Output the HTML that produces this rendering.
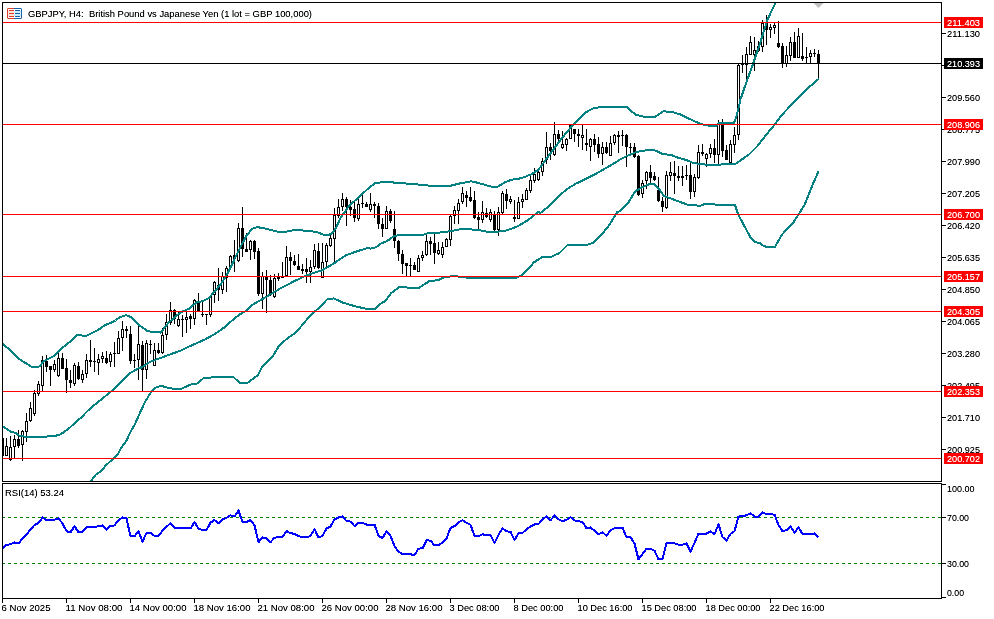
<!DOCTYPE html>
<html><head><meta charset="utf-8"><style>
html,body{margin:0;padding:0;background:#fff;width:994px;height:619px;overflow:hidden}
svg{position:absolute;left:0;top:0;display:block}
</style></head><body>
<svg width="994" height="619" viewBox="0 0 994 619">
<defs><clipPath id="cm"><rect x="3" y="3" width="938" height="478"/></clipPath><clipPath id="cr"><rect x="3" y="484" width="938" height="114"/></clipPath></defs><g shape-rendering="crispEdges" clip-path="url(#cm)"><rect x="2" y="438" width="1" height="18" fill="#000"/><rect x="1" y="438" width="3" height="18" fill="#000"/><rect x="6" y="438" width="1" height="18" fill="#000"/><rect x="5" y="446" width="3" height="10" fill="#000"/><rect x="6" y="447" width="1" height="8" fill="#fff"/><rect x="10" y="436" width="1" height="25" fill="#000"/><rect x="9" y="447" width="3" height="13" fill="#000"/><rect x="10" y="448" width="1" height="11" fill="#fff"/><rect x="14" y="435" width="1" height="23" fill="#000"/><rect x="13" y="439" width="3" height="8" fill="#000"/><rect x="14" y="440" width="1" height="6" fill="#fff"/><rect x="18" y="430" width="1" height="18" fill="#000"/><rect x="17" y="439" width="3" height="7" fill="#000"/><rect x="22" y="430" width="1" height="31" fill="#000"/><rect x="21" y="431" width="3" height="14" fill="#000"/><rect x="22" y="432" width="1" height="12" fill="#fff"/><rect x="26" y="413" width="1" height="29" fill="#000"/><rect x="25" y="421" width="3" height="11" fill="#000"/><rect x="26" y="422" width="1" height="9" fill="#fff"/><rect x="30" y="402" width="1" height="20" fill="#000"/><rect x="29" y="408" width="3" height="13" fill="#000"/><rect x="30" y="409" width="1" height="11" fill="#fff"/><rect x="34" y="390" width="1" height="26" fill="#000"/><rect x="33" y="393" width="3" height="21" fill="#000"/><rect x="34" y="394" width="1" height="19" fill="#fff"/><rect x="38" y="381" width="1" height="15" fill="#000"/><rect x="37" y="384" width="3" height="10" fill="#000"/><rect x="38" y="385" width="1" height="8" fill="#fff"/><rect x="42" y="356" width="1" height="35" fill="#000"/><rect x="41" y="360" width="3" height="26" fill="#000"/><rect x="42" y="361" width="1" height="24" fill="#fff"/><rect x="46" y="355" width="1" height="17" fill="#000"/><rect x="45" y="361" width="3" height="6" fill="#000"/><rect x="50" y="366" width="1" height="20" fill="#000"/><rect x="49" y="366" width="3" height="4" fill="#000"/><rect x="54" y="360" width="1" height="12" fill="#000"/><rect x="53" y="364" width="3" height="6" fill="#000"/><rect x="54" y="365" width="1" height="4" fill="#fff"/><rect x="58" y="353" width="1" height="24" fill="#000"/><rect x="57" y="358" width="3" height="18" fill="#000"/><rect x="58" y="359" width="1" height="16" fill="#fff"/><rect x="62" y="353" width="1" height="16" fill="#000"/><rect x="61" y="358" width="3" height="11" fill="#000"/><rect x="66" y="359" width="1" height="34" fill="#000"/><rect x="65" y="368" width="3" height="12" fill="#000"/><rect x="70" y="370" width="1" height="18" fill="#000"/><rect x="69" y="380" width="3" height="3" fill="#000"/><rect x="74" y="363" width="1" height="23" fill="#000"/><rect x="73" y="365" width="3" height="19" fill="#000"/><rect x="74" y="366" width="1" height="17" fill="#fff"/><rect x="78" y="362" width="1" height="18" fill="#000"/><rect x="77" y="366" width="3" height="13" fill="#000"/><rect x="82" y="370" width="1" height="13" fill="#000"/><rect x="81" y="374" width="3" height="6" fill="#000"/><rect x="82" y="375" width="1" height="4" fill="#fff"/><rect x="86" y="354" width="1" height="24" fill="#000"/><rect x="85" y="360" width="3" height="14" fill="#000"/><rect x="86" y="361" width="1" height="12" fill="#fff"/><rect x="90" y="340" width="1" height="27" fill="#000"/><rect x="89" y="360" width="3" height="2" fill="#000"/><rect x="94" y="348" width="1" height="24" fill="#000"/><rect x="93" y="361" width="3" height="1" fill="#000"/><rect x="98" y="354" width="1" height="21" fill="#000"/><rect x="97" y="359" width="3" height="4" fill="#000"/><rect x="98" y="360" width="1" height="2" fill="#fff"/><rect x="102" y="352" width="1" height="11" fill="#000"/><rect x="101" y="356" width="3" height="3" fill="#000"/><rect x="102" y="357" width="1" height="1" fill="#fff"/><rect x="106" y="351" width="1" height="13" fill="#000"/><rect x="105" y="358" width="3" height="5" fill="#000"/><rect x="110" y="352" width="1" height="15" fill="#000"/><rect x="109" y="354" width="3" height="8" fill="#000"/><rect x="110" y="355" width="1" height="6" fill="#fff"/><rect x="114" y="342" width="1" height="25" fill="#000"/><rect x="113" y="353" width="3" height="1" fill="#000"/><rect x="118" y="331" width="1" height="23" fill="#000"/><rect x="117" y="338" width="3" height="16" fill="#000"/><rect x="118" y="339" width="1" height="14" fill="#fff"/><rect x="122" y="321" width="1" height="30" fill="#000"/><rect x="121" y="329" width="3" height="9" fill="#000"/><rect x="122" y="330" width="1" height="7" fill="#fff"/><rect x="126" y="326" width="1" height="12" fill="#000"/><rect x="125" y="329" width="3" height="2" fill="#000"/><rect x="130" y="326" width="1" height="38" fill="#000"/><rect x="129" y="334" width="3" height="27" fill="#000"/><rect x="134" y="354" width="1" height="14" fill="#000"/><rect x="133" y="360" width="3" height="1" fill="#000"/><rect x="138" y="325" width="1" height="55" fill="#000"/><rect x="137" y="344" width="3" height="16" fill="#000"/><rect x="138" y="345" width="1" height="14" fill="#fff"/><rect x="142" y="341" width="1" height="50" fill="#000"/><rect x="141" y="345" width="3" height="25" fill="#000"/><rect x="146" y="340" width="1" height="39" fill="#000"/><rect x="145" y="343" width="3" height="27" fill="#000"/><rect x="146" y="344" width="1" height="25" fill="#fff"/><rect x="150" y="340" width="1" height="14" fill="#000"/><rect x="149" y="344" width="3" height="1" fill="#000"/><rect x="154" y="343" width="1" height="23" fill="#000"/><rect x="153" y="350" width="3" height="16" fill="#000"/><rect x="154" y="351" width="1" height="14" fill="#fff"/><rect x="158" y="343" width="1" height="11" fill="#000"/><rect x="157" y="350" width="3" height="3" fill="#000"/><rect x="162" y="328" width="1" height="26" fill="#000"/><rect x="161" y="335" width="3" height="18" fill="#000"/><rect x="162" y="336" width="1" height="16" fill="#fff"/><rect x="166" y="314" width="1" height="26" fill="#000"/><rect x="165" y="322" width="3" height="13" fill="#000"/><rect x="166" y="323" width="1" height="11" fill="#fff"/><rect x="170" y="302" width="1" height="23" fill="#000"/><rect x="169" y="310" width="3" height="13" fill="#000"/><rect x="170" y="311" width="1" height="11" fill="#fff"/><rect x="174" y="309" width="1" height="15" fill="#000"/><rect x="173" y="310" width="3" height="9" fill="#000"/><rect x="178" y="312" width="1" height="15" fill="#000"/><rect x="177" y="319" width="3" height="7" fill="#000"/><rect x="178" y="320" width="1" height="5" fill="#fff"/><rect x="182" y="315" width="1" height="22" fill="#000"/><rect x="181" y="319" width="3" height="1" fill="#000"/><rect x="186" y="312" width="1" height="21" fill="#000"/><rect x="185" y="317" width="3" height="3" fill="#000"/><rect x="186" y="318" width="1" height="1" fill="#fff"/><rect x="190" y="314" width="1" height="15" fill="#000"/><rect x="189" y="316" width="3" height="3" fill="#000"/><rect x="194" y="299" width="1" height="26" fill="#000"/><rect x="193" y="300" width="3" height="19" fill="#000"/><rect x="194" y="301" width="1" height="17" fill="#fff"/><rect x="198" y="293" width="1" height="18" fill="#000"/><rect x="197" y="302" width="3" height="9" fill="#000"/><rect x="202" y="301" width="1" height="16" fill="#000"/><rect x="201" y="314" width="3" height="1" fill="#000"/><rect x="206" y="314" width="1" height="11" fill="#000"/><rect x="205" y="314" width="3" height="1" fill="#000"/><rect x="210" y="295" width="1" height="22" fill="#000"/><rect x="209" y="296" width="3" height="19" fill="#000"/><rect x="210" y="297" width="1" height="17" fill="#fff"/><rect x="214" y="281" width="1" height="22" fill="#000"/><rect x="213" y="282" width="3" height="13" fill="#000"/><rect x="214" y="283" width="1" height="11" fill="#fff"/><rect x="218" y="268" width="1" height="33" fill="#000"/><rect x="217" y="285" width="3" height="5" fill="#000"/><rect x="222" y="272" width="1" height="22" fill="#000"/><rect x="221" y="276" width="3" height="14" fill="#000"/><rect x="222" y="277" width="1" height="12" fill="#fff"/><rect x="226" y="266" width="1" height="26" fill="#000"/><rect x="225" y="268" width="3" height="10" fill="#000"/><rect x="226" y="269" width="1" height="8" fill="#fff"/><rect x="230" y="255" width="1" height="15" fill="#000"/><rect x="229" y="256" width="3" height="12" fill="#000"/><rect x="230" y="257" width="1" height="10" fill="#fff"/><rect x="234" y="240" width="1" height="32" fill="#000"/><rect x="233" y="255" width="3" height="4" fill="#000"/><rect x="238" y="223" width="1" height="39" fill="#000"/><rect x="237" y="228" width="3" height="33" fill="#000"/><rect x="238" y="229" width="1" height="31" fill="#fff"/><rect x="242" y="207" width="1" height="50" fill="#000"/><rect x="241" y="228" width="3" height="21" fill="#000"/><rect x="246" y="233" width="1" height="19" fill="#000"/><rect x="245" y="249" width="3" height="3" fill="#000"/><rect x="250" y="240" width="1" height="20" fill="#000"/><rect x="249" y="241" width="3" height="9" fill="#000"/><rect x="250" y="242" width="1" height="7" fill="#fff"/><rect x="254" y="240" width="1" height="19" fill="#000"/><rect x="253" y="241" width="3" height="11" fill="#000"/><rect x="258" y="248" width="1" height="48" fill="#000"/><rect x="257" y="251" width="3" height="43" fill="#000"/><rect x="262" y="272" width="1" height="37" fill="#000"/><rect x="261" y="276" width="3" height="18" fill="#000"/><rect x="262" y="277" width="1" height="16" fill="#fff"/><rect x="266" y="270" width="1" height="43" fill="#000"/><rect x="265" y="277" width="3" height="3" fill="#000"/><rect x="270" y="275" width="1" height="21" fill="#000"/><rect x="269" y="280" width="3" height="15" fill="#000"/><rect x="274" y="274" width="1" height="24" fill="#000"/><rect x="273" y="278" width="3" height="19" fill="#000"/><rect x="274" y="279" width="1" height="17" fill="#fff"/><rect x="278" y="273" width="1" height="8" fill="#000"/><rect x="277" y="277" width="3" height="2" fill="#000"/><rect x="282" y="262" width="1" height="16" fill="#000"/><rect x="281" y="276" width="3" height="2" fill="#000"/><rect x="286" y="246" width="1" height="31" fill="#000"/><rect x="285" y="257" width="3" height="19" fill="#000"/><rect x="286" y="258" width="1" height="17" fill="#fff"/><rect x="290" y="252" width="1" height="23" fill="#000"/><rect x="289" y="257" width="3" height="4" fill="#000"/><rect x="294" y="255" width="1" height="11" fill="#000"/><rect x="293" y="261" width="3" height="4" fill="#000"/><rect x="298" y="254" width="1" height="16" fill="#000"/><rect x="297" y="266" width="3" height="4" fill="#000"/><rect x="302" y="264" width="1" height="10" fill="#000"/><rect x="301" y="269" width="3" height="2" fill="#000"/><rect x="306" y="258" width="1" height="25" fill="#000"/><rect x="305" y="269" width="3" height="3" fill="#000"/><rect x="310" y="260" width="1" height="23" fill="#000"/><rect x="309" y="267" width="3" height="5" fill="#000"/><rect x="310" y="268" width="1" height="3" fill="#fff"/><rect x="314" y="244" width="1" height="25" fill="#000"/><rect x="313" y="250" width="3" height="17" fill="#000"/><rect x="314" y="251" width="1" height="15" fill="#fff"/><rect x="318" y="243" width="1" height="26" fill="#000"/><rect x="317" y="251" width="3" height="17" fill="#000"/><rect x="322" y="243" width="1" height="35" fill="#000"/><rect x="321" y="262" width="3" height="16" fill="#000"/><rect x="322" y="263" width="1" height="14" fill="#fff"/><rect x="326" y="243" width="1" height="26" fill="#000"/><rect x="325" y="245" width="3" height="17" fill="#000"/><rect x="326" y="246" width="1" height="15" fill="#fff"/><rect x="330" y="235" width="1" height="12" fill="#000"/><rect x="329" y="238" width="3" height="8" fill="#000"/><rect x="330" y="239" width="1" height="6" fill="#fff"/><rect x="334" y="208" width="1" height="54" fill="#000"/><rect x="333" y="215" width="3" height="24" fill="#000"/><rect x="334" y="216" width="1" height="22" fill="#fff"/><rect x="338" y="199" width="1" height="19" fill="#000"/><rect x="337" y="207" width="3" height="9" fill="#000"/><rect x="338" y="208" width="1" height="7" fill="#fff"/><rect x="342" y="193" width="1" height="18" fill="#000"/><rect x="341" y="199" width="3" height="8" fill="#000"/><rect x="342" y="200" width="1" height="6" fill="#fff"/><rect x="346" y="197" width="1" height="29" fill="#000"/><rect x="345" y="199" width="3" height="8" fill="#000"/><rect x="350" y="200" width="1" height="16" fill="#000"/><rect x="349" y="207" width="3" height="3" fill="#000"/><rect x="354" y="202" width="1" height="20" fill="#000"/><rect x="353" y="209" width="3" height="9" fill="#000"/><rect x="358" y="199" width="1" height="22" fill="#000"/><rect x="357" y="204" width="3" height="15" fill="#000"/><rect x="358" y="205" width="1" height="13" fill="#fff"/><rect x="362" y="195" width="1" height="13" fill="#000"/><rect x="361" y="203" width="3" height="1" fill="#000"/><rect x="366" y="202" width="1" height="5" fill="#000"/><rect x="365" y="204" width="3" height="3" fill="#000"/><rect x="370" y="193" width="1" height="19" fill="#000"/><rect x="369" y="204" width="3" height="6" fill="#000"/><rect x="370" y="205" width="1" height="4" fill="#fff"/><rect x="374" y="202" width="1" height="16" fill="#000"/><rect x="373" y="204" width="3" height="2" fill="#000"/><rect x="378" y="203" width="1" height="26" fill="#000"/><rect x="377" y="206" width="3" height="18" fill="#000"/><rect x="382" y="218" width="1" height="19" fill="#000"/><rect x="381" y="224" width="3" height="5" fill="#000"/><rect x="386" y="206" width="1" height="23" fill="#000"/><rect x="385" y="211" width="3" height="18" fill="#000"/><rect x="386" y="212" width="1" height="16" fill="#fff"/><rect x="390" y="209" width="1" height="14" fill="#000"/><rect x="389" y="211" width="3" height="10" fill="#000"/><rect x="394" y="211" width="1" height="37" fill="#000"/><rect x="393" y="229" width="3" height="12" fill="#000"/><rect x="398" y="240" width="1" height="21" fill="#000"/><rect x="397" y="241" width="3" height="13" fill="#000"/><rect x="402" y="250" width="1" height="24" fill="#000"/><rect x="401" y="254" width="3" height="10" fill="#000"/><rect x="406" y="263" width="1" height="13" fill="#000"/><rect x="405" y="263" width="3" height="3" fill="#000"/><rect x="410" y="258" width="1" height="18" fill="#000"/><rect x="409" y="265" width="3" height="1" fill="#000"/><rect x="414" y="262" width="1" height="8" fill="#000"/><rect x="413" y="265" width="3" height="5" fill="#000"/><rect x="418" y="255" width="1" height="17" fill="#000"/><rect x="417" y="258" width="3" height="14" fill="#000"/><rect x="418" y="259" width="1" height="12" fill="#fff"/><rect x="422" y="251" width="1" height="10" fill="#000"/><rect x="421" y="255" width="3" height="3" fill="#000"/><rect x="422" y="256" width="1" height="1" fill="#fff"/><rect x="426" y="233" width="1" height="23" fill="#000"/><rect x="425" y="241" width="3" height="14" fill="#000"/><rect x="426" y="242" width="1" height="12" fill="#fff"/><rect x="430" y="237" width="1" height="18" fill="#000"/><rect x="429" y="241" width="3" height="3" fill="#000"/><rect x="434" y="234" width="1" height="30" fill="#000"/><rect x="433" y="243" width="3" height="10" fill="#000"/><rect x="438" y="242" width="1" height="13" fill="#000"/><rect x="437" y="250" width="3" height="4" fill="#000"/><rect x="438" y="251" width="1" height="2" fill="#fff"/><rect x="442" y="242" width="1" height="16" fill="#000"/><rect x="441" y="247" width="3" height="8" fill="#000"/><rect x="442" y="248" width="1" height="6" fill="#fff"/><rect x="446" y="238" width="1" height="9" fill="#000"/><rect x="445" y="239" width="3" height="8" fill="#000"/><rect x="446" y="240" width="1" height="6" fill="#fff"/><rect x="450" y="215" width="1" height="31" fill="#000"/><rect x="449" y="216" width="3" height="24" fill="#000"/><rect x="450" y="217" width="1" height="22" fill="#fff"/><rect x="454" y="206" width="1" height="18" fill="#000"/><rect x="453" y="210" width="3" height="6" fill="#000"/><rect x="454" y="211" width="1" height="4" fill="#fff"/><rect x="458" y="199" width="1" height="25" fill="#000"/><rect x="457" y="203" width="3" height="8" fill="#000"/><rect x="458" y="204" width="1" height="6" fill="#fff"/><rect x="462" y="187" width="1" height="17" fill="#000"/><rect x="461" y="193" width="3" height="9" fill="#000"/><rect x="462" y="194" width="1" height="7" fill="#fff"/><rect x="466" y="191" width="1" height="16" fill="#000"/><rect x="465" y="195" width="3" height="3" fill="#000"/><rect x="470" y="187" width="1" height="15" fill="#000"/><rect x="469" y="197" width="3" height="4" fill="#000"/><rect x="474" y="191" width="1" height="28" fill="#000"/><rect x="473" y="200" width="3" height="18" fill="#000"/><rect x="478" y="212" width="1" height="17" fill="#000"/><rect x="477" y="217" width="3" height="3" fill="#000"/><rect x="482" y="201" width="1" height="22" fill="#000"/><rect x="481" y="212" width="3" height="8" fill="#000"/><rect x="482" y="213" width="1" height="6" fill="#fff"/><rect x="486" y="208" width="1" height="10" fill="#000"/><rect x="485" y="213" width="3" height="4" fill="#000"/><rect x="490" y="209" width="1" height="13" fill="#000"/><rect x="489" y="212" width="3" height="8" fill="#000"/><rect x="490" y="213" width="1" height="6" fill="#fff"/><rect x="494" y="211" width="1" height="22" fill="#000"/><rect x="493" y="214" width="3" height="16" fill="#000"/><rect x="498" y="207" width="1" height="29" fill="#000"/><rect x="497" y="212" width="3" height="18" fill="#000"/><rect x="498" y="213" width="1" height="16" fill="#fff"/><rect x="502" y="191" width="1" height="23" fill="#000"/><rect x="501" y="193" width="3" height="20" fill="#000"/><rect x="502" y="194" width="1" height="18" fill="#fff"/><rect x="506" y="189" width="1" height="20" fill="#000"/><rect x="505" y="194" width="3" height="7" fill="#000"/><rect x="510" y="196" width="1" height="8" fill="#000"/><rect x="509" y="199" width="3" height="3" fill="#000"/><rect x="510" y="200" width="1" height="1" fill="#fff"/><rect x="514" y="200" width="1" height="22" fill="#000"/><rect x="513" y="217" width="3" height="2" fill="#000"/><rect x="518" y="197" width="1" height="22" fill="#000"/><rect x="517" y="202" width="3" height="17" fill="#000"/><rect x="518" y="203" width="1" height="15" fill="#fff"/><rect x="522" y="194" width="1" height="14" fill="#000"/><rect x="521" y="199" width="3" height="3" fill="#000"/><rect x="522" y="200" width="1" height="1" fill="#fff"/><rect x="526" y="188" width="1" height="12" fill="#000"/><rect x="525" y="190" width="3" height="10" fill="#000"/><rect x="526" y="191" width="1" height="8" fill="#fff"/><rect x="530" y="175" width="1" height="18" fill="#000"/><rect x="529" y="180" width="3" height="11" fill="#000"/><rect x="530" y="181" width="1" height="9" fill="#fff"/><rect x="534" y="168" width="1" height="15" fill="#000"/><rect x="533" y="174" width="3" height="7" fill="#000"/><rect x="534" y="175" width="1" height="5" fill="#fff"/><rect x="538" y="169" width="1" height="12" fill="#000"/><rect x="537" y="172" width="3" height="8" fill="#000"/><rect x="538" y="173" width="1" height="6" fill="#fff"/><rect x="542" y="158" width="1" height="18" fill="#000"/><rect x="541" y="161" width="3" height="11" fill="#000"/><rect x="542" y="162" width="1" height="9" fill="#fff"/><rect x="546" y="132" width="1" height="32" fill="#000"/><rect x="545" y="147" width="3" height="13" fill="#000"/><rect x="546" y="148" width="1" height="11" fill="#fff"/><rect x="550" y="143" width="1" height="17" fill="#000"/><rect x="549" y="147" width="3" height="4" fill="#000"/><rect x="554" y="122" width="1" height="34" fill="#000"/><rect x="553" y="134" width="3" height="21" fill="#000"/><rect x="554" y="135" width="1" height="19" fill="#fff"/><rect x="558" y="130" width="1" height="11" fill="#000"/><rect x="557" y="134" width="3" height="5" fill="#000"/><rect x="562" y="131" width="1" height="18" fill="#000"/><rect x="561" y="144" width="3" height="4" fill="#000"/><rect x="562" y="145" width="1" height="2" fill="#fff"/><rect x="566" y="138" width="1" height="13" fill="#000"/><rect x="565" y="139" width="3" height="6" fill="#000"/><rect x="566" y="140" width="1" height="4" fill="#fff"/><rect x="570" y="124" width="1" height="15" fill="#000"/><rect x="569" y="125" width="3" height="14" fill="#000"/><rect x="570" y="126" width="1" height="12" fill="#fff"/><rect x="574" y="129" width="1" height="13" fill="#000"/><rect x="573" y="129" width="3" height="5" fill="#000"/><rect x="578" y="129" width="1" height="18" fill="#000"/><rect x="577" y="134" width="3" height="2" fill="#000"/><rect x="582" y="125" width="1" height="25" fill="#000"/><rect x="581" y="135" width="3" height="3" fill="#000"/><rect x="582" y="136" width="1" height="1" fill="#fff"/><rect x="586" y="129" width="1" height="22" fill="#000"/><rect x="585" y="143" width="3" height="2" fill="#000"/><rect x="590" y="138" width="1" height="23" fill="#000"/><rect x="589" y="139" width="3" height="8" fill="#000"/><rect x="590" y="140" width="1" height="6" fill="#fff"/><rect x="594" y="134" width="1" height="18" fill="#000"/><rect x="593" y="139" width="3" height="6" fill="#000"/><rect x="598" y="137" width="1" height="21" fill="#000"/><rect x="597" y="144" width="3" height="10" fill="#000"/><rect x="602" y="142" width="1" height="23" fill="#000"/><rect x="601" y="147" width="3" height="7" fill="#000"/><rect x="602" y="148" width="1" height="5" fill="#fff"/><rect x="606" y="142" width="1" height="12" fill="#000"/><rect x="605" y="147" width="3" height="6" fill="#000"/><rect x="610" y="136" width="1" height="20" fill="#000"/><rect x="609" y="143" width="3" height="13" fill="#000"/><rect x="610" y="144" width="1" height="11" fill="#fff"/><rect x="614" y="134" width="1" height="11" fill="#000"/><rect x="613" y="135" width="3" height="8" fill="#000"/><rect x="614" y="136" width="1" height="6" fill="#fff"/><rect x="618" y="131" width="1" height="22" fill="#000"/><rect x="617" y="135" width="3" height="2" fill="#000"/><rect x="622" y="130" width="1" height="16" fill="#000"/><rect x="621" y="135" width="3" height="1" fill="#000"/><rect x="626" y="134" width="1" height="33" fill="#000"/><rect x="625" y="135" width="3" height="12" fill="#000"/><rect x="630" y="143" width="1" height="11" fill="#000"/><rect x="629" y="147" width="3" height="1" fill="#000"/><rect x="634" y="143" width="1" height="15" fill="#000"/><rect x="633" y="147" width="3" height="10" fill="#000"/><rect x="638" y="155" width="1" height="41" fill="#000"/><rect x="637" y="156" width="3" height="39" fill="#000"/><rect x="642" y="180" width="1" height="18" fill="#000"/><rect x="641" y="183" width="3" height="11" fill="#000"/><rect x="642" y="184" width="1" height="9" fill="#fff"/><rect x="646" y="171" width="1" height="18" fill="#000"/><rect x="645" y="172" width="3" height="9" fill="#000"/><rect x="646" y="173" width="1" height="7" fill="#fff"/><rect x="650" y="165" width="1" height="18" fill="#000"/><rect x="649" y="172" width="3" height="6" fill="#000"/><rect x="654" y="172" width="1" height="9" fill="#000"/><rect x="653" y="176" width="3" height="4" fill="#000"/><rect x="658" y="177" width="1" height="25" fill="#000"/><rect x="657" y="190" width="3" height="11" fill="#000"/><rect x="662" y="197" width="1" height="15" fill="#000"/><rect x="661" y="201" width="3" height="6" fill="#000"/><rect x="666" y="171" width="1" height="38" fill="#000"/><rect x="665" y="175" width="3" height="33" fill="#000"/><rect x="666" y="176" width="1" height="31" fill="#fff"/><rect x="670" y="162" width="1" height="19" fill="#000"/><rect x="669" y="172" width="3" height="4" fill="#000"/><rect x="670" y="173" width="1" height="2" fill="#fff"/><rect x="674" y="161" width="1" height="33" fill="#000"/><rect x="673" y="173" width="3" height="3" fill="#000"/><rect x="678" y="166" width="1" height="15" fill="#000"/><rect x="677" y="176" width="3" height="2" fill="#000"/><rect x="682" y="166" width="1" height="20" fill="#000"/><rect x="681" y="176" width="3" height="2" fill="#000"/><rect x="686" y="165" width="1" height="15" fill="#000"/><rect x="685" y="175" width="3" height="1" fill="#000"/><rect x="690" y="163" width="1" height="36" fill="#000"/><rect x="689" y="175" width="3" height="17" fill="#000"/><rect x="694" y="174" width="1" height="23" fill="#000"/><rect x="693" y="177" width="3" height="15" fill="#000"/><rect x="694" y="178" width="1" height="13" fill="#fff"/><rect x="698" y="145" width="1" height="34" fill="#000"/><rect x="697" y="152" width="3" height="26" fill="#000"/><rect x="698" y="153" width="1" height="24" fill="#fff"/><rect x="702" y="144" width="1" height="12" fill="#000"/><rect x="701" y="152" width="3" height="2" fill="#000"/><rect x="706" y="153" width="1" height="14" fill="#000"/><rect x="705" y="154" width="3" height="5" fill="#000"/><rect x="706" y="155" width="1" height="3" fill="#fff"/><rect x="710" y="144" width="1" height="14" fill="#000"/><rect x="709" y="148" width="3" height="6" fill="#000"/><rect x="710" y="149" width="1" height="4" fill="#fff"/><rect x="714" y="139" width="1" height="24" fill="#000"/><rect x="713" y="148" width="3" height="7" fill="#000"/><rect x="718" y="120" width="1" height="46" fill="#000"/><rect x="717" y="124" width="3" height="31" fill="#000"/><rect x="718" y="125" width="1" height="29" fill="#fff"/><rect x="722" y="119" width="1" height="38" fill="#000"/><rect x="721" y="124" width="3" height="27" fill="#000"/><rect x="726" y="145" width="1" height="15" fill="#000"/><rect x="725" y="150" width="3" height="10" fill="#000"/><rect x="730" y="140" width="1" height="23" fill="#000"/><rect x="729" y="144" width="3" height="19" fill="#000"/><rect x="730" y="145" width="1" height="17" fill="#fff"/><rect x="734" y="127" width="1" height="26" fill="#000"/><rect x="733" y="135" width="3" height="10" fill="#000"/><rect x="734" y="136" width="1" height="8" fill="#fff"/><rect x="738" y="64" width="1" height="76" fill="#000"/><rect x="737" y="65" width="3" height="70" fill="#000"/><rect x="738" y="66" width="1" height="68" fill="#fff"/><rect x="742" y="55" width="1" height="18" fill="#000"/><rect x="741" y="63" width="3" height="2" fill="#000"/><rect x="746" y="47" width="1" height="32" fill="#000"/><rect x="745" y="54" width="3" height="11" fill="#000"/><rect x="746" y="55" width="1" height="9" fill="#fff"/><rect x="750" y="36" width="1" height="19" fill="#000"/><rect x="749" y="42" width="3" height="13" fill="#000"/><rect x="750" y="43" width="1" height="11" fill="#fff"/><rect x="754" y="37" width="1" height="34" fill="#000"/><rect x="753" y="50" width="3" height="5" fill="#000"/><rect x="754" y="51" width="1" height="3" fill="#fff"/><rect x="758" y="41" width="1" height="11" fill="#000"/><rect x="757" y="46" width="3" height="5" fill="#000"/><rect x="758" y="47" width="1" height="3" fill="#fff"/><rect x="762" y="20" width="1" height="32" fill="#000"/><rect x="761" y="23" width="3" height="24" fill="#000"/><rect x="762" y="24" width="1" height="22" fill="#fff"/><rect x="766" y="15" width="1" height="30" fill="#000"/><rect x="765" y="23" width="3" height="7" fill="#000"/><rect x="770" y="24" width="1" height="14" fill="#000"/><rect x="769" y="27" width="3" height="3" fill="#000"/><rect x="770" y="28" width="1" height="1" fill="#fff"/><rect x="774" y="23" width="1" height="11" fill="#000"/><rect x="773" y="25" width="3" height="3" fill="#000"/><rect x="774" y="26" width="1" height="1" fill="#fff"/><rect x="778" y="21" width="1" height="27" fill="#000"/><rect x="777" y="43" width="3" height="4" fill="#000"/><rect x="782" y="43" width="1" height="25" fill="#000"/><rect x="781" y="46" width="3" height="17" fill="#000"/><rect x="786" y="46" width="1" height="21" fill="#000"/><rect x="785" y="55" width="3" height="9" fill="#000"/><rect x="786" y="56" width="1" height="7" fill="#fff"/><rect x="790" y="37" width="1" height="24" fill="#000"/><rect x="789" y="42" width="3" height="14" fill="#000"/><rect x="790" y="43" width="1" height="12" fill="#fff"/><rect x="794" y="32" width="1" height="26" fill="#000"/><rect x="793" y="42" width="3" height="16" fill="#000"/><rect x="798" y="28" width="1" height="30" fill="#000"/><rect x="797" y="36" width="3" height="22" fill="#000"/><rect x="798" y="37" width="1" height="20" fill="#fff"/><rect x="802" y="33" width="1" height="28" fill="#000"/><rect x="801" y="56" width="3" height="3" fill="#000"/><rect x="806" y="47" width="1" height="16" fill="#000"/><rect x="805" y="57" width="3" height="1" fill="#000"/><rect x="810" y="50" width="1" height="13" fill="#000"/><rect x="809" y="53" width="3" height="4" fill="#000"/><rect x="810" y="54" width="1" height="2" fill="#fff"/><rect x="814" y="49" width="1" height="8" fill="#000"/><rect x="813" y="53" width="3" height="1" fill="#000"/><rect x="818" y="50" width="1" height="28" fill="#000"/><rect x="817" y="54" width="3" height="9" fill="#000"/></g><polyline clip-path="url(#cm)" points="2.5,344 10.2,349.8 19.9,359.5 26.3,363.5 31.2,366.5 39.3,366.5 44.1,361.1 53.8,356.2 61.9,348.2 70,341.7 76.4,335.2 80.5,335 85.3,336.3 92.6,332.6 98.7,329.6 104.7,325.3 112,322.3 115.5,320.5 119.9,317.2 126.3,315.1 131.2,317.2 139.3,325.2 147.3,330.9 153.8,332.5 160.3,332.2 160.5,332.7 168.3,323 174.7,317.2 181.2,312 188.9,308.8 192.8,305.5 196.7,302.3 203.1,301 208.3,298.5 214.8,291.3 221.2,283.6 227.7,273.3 231.5,265.5 239,249.9 246.3,236.1 252.1,228.8 257.2,227.1 266.5,228.8 276.8,231.5 285.5,231.8 292.8,230.3 300.5,230.3 316.5,231.9 324.7,235.1 331.2,234.3 336,227.9 340.9,217.3 349,206 358.7,197.2 368.4,188.3 374.8,183.4 386.1,181.5 394.2,182.6 400.5,183.1 415,184.2 434.5,186.2 449,186.2 458.5,183.7 471.5,181.3 478,182.9 492.5,187 496.5,187.5 504.5,182.5 511,179.9 521.5,178.2 532,174 538.3,169.8 544.6,161.4 553,149.9 563.5,136.2 574,123.6 584.5,113.1 592.9,108.5 600.5,107.1 626.8,107.1 635.2,114.4 644.6,116.9 655.1,116.9 663.5,111.3 671.9,111.9 680.3,114.4 688.7,118.6 700.5,123.9 707.9,125.5 716,126.4 719.2,123.2 734.1,122.9 737,114.5 740.5,99.4 745.7,84.1 752.5,65.5 760.8,40.9 767.3,19.9 775.5,2.9 790.5,-39.5 818.5,-99.5" fill="none" stroke="#008080" stroke-width="2" stroke-linejoin="round" shape-rendering="crispEdges"/><polyline clip-path="url(#cm)" points="2.5,426.5 7.7,429.5 11.4,432.2 15,432.6 18.6,435.4 26.8,437.2 43.1,437.2 51.2,435.8 58.5,435.4 63.9,432.2 69.3,428.1 76.6,421.3 81.1,417.7 86.5,412 92.5,406.3 102.8,398.5 106,395.5 112,390.8 120.5,382.3 129,373.8 140.5,367.2 140.9,368 149,362.4 157,359.2 168.4,355.1 181.3,350.3 191,345.5 191.5,345.5 205.7,339.1 214.8,334 225.1,326.9 232.8,319.8 240.5,314 245.1,311.5 252.8,304.5 264.5,297.9 280.5,288.3 296,280.3 306,275.7 315.5,272.3 321.5,270.5 332.8,264.2 345.7,255.3 357,251.3 368.4,247.7 370.5,248.7 376.3,247.2 380.7,243.6 386.5,241.4 393.8,236.3 399.5,234.9 422.9,234.9 427.2,233.4 438.9,232.7 450.5,231.2 461.9,229 478,229.8 486.1,231.5 494.2,232.2 506.2,230.5 517.3,226.5 527.8,220.2 538.3,211.8 540.5,213 548.9,206.1 559.4,195.6 566.7,189.3 575.1,184.1 584.6,179.4 597.2,173.1 605.6,168.3 611.9,164.7 620.5,159.3 627.8,155.7 636.3,152 647.2,150.2 654.5,150.2 662.9,154.1 671.4,155 677.5,157.5 686,159.9 693.2,162.9 700.5,164.1 710.5,165 735.5,163.8 749.1,154.5 757.5,146 766,135 774.5,124.8 781.3,115.5 796.5,99.4 806.7,89.2 818.5,79.1 819,78.9" fill="none" stroke="#008080" stroke-width="2" stroke-linejoin="round" shape-rendering="crispEdges"/><polyline clip-path="url(#cm)" points="80.5,500.5 90.7,481.5 96,474.5 101.4,470.9 105.8,465.5 112.9,458.9 118.2,453.5 121.8,446.9 126.2,441.2 130.5,431.8 135.3,423.5 140.5,411.5 145.5,401.2 150.7,392.5 155.8,387.5 161,385.8 169.5,388.3 180.5,389.2 190.9,384.5 197.2,383.5 203.5,378.2 220.3,376.7 234,377.5 239.2,382.5 247.5,383 258.1,375 262.3,366.5 272.9,356.1 279.2,345.5 287.5,338.3 296,332.5 310.5,315.2 319.1,307.8 327.5,299 333.8,298.4 343.1,302.7 350.7,305 358.2,307 367.3,309.1 375.5,309.1 378.5,305 385.4,300.9 391.4,292.9 398.9,287.3 411,287.6 418.5,288.1 429.1,281.3 438.1,280.1 444.2,277.4 453.2,276 470.5,278 515.8,277.9 521.8,275.2 527.8,269.6 533.9,262.4 541.4,257.5 550.5,257.1 559.5,253 567.1,245.5 576.1,245 586.7,245 592.7,243 601.8,234.5 608.9,225.5 617.3,212.1 620.5,210.8 627.8,203.5 635,191.4 642.3,187.2 649.5,184.1 654.5,184.4 659.3,189 663.5,195.7 671.4,198.7 681.1,202.3 689.5,205.3 700.5,205.6 704.4,204.1 714.1,204.1 716,205.1 734.1,204.9 735,205.2 738.3,214.6 744.7,226.7 750.4,237.2 755.2,242.1 759.3,242.9 764.1,246.1 769,247.4 774.6,247.4 781.9,234.8 786.7,229.2 793.2,222.7 798,215.4 804.5,204.9 809.4,192.8 812.6,184.7 818.2,172.1 818.8,171.5" fill="none" stroke="#008080" stroke-width="2" stroke-linejoin="round" shape-rendering="crispEdges"/><g shape-rendering="crispEdges"><rect x="3" y="22" width="938" height="1" fill="#ff0000"/><rect x="3" y="124" width="938" height="1" fill="#ff0000"/><rect x="3" y="214" width="938" height="1" fill="#ff0000"/><rect x="3" y="276" width="938" height="1" fill="#ff0000"/><rect x="3" y="311" width="938" height="1" fill="#ff0000"/><rect x="3" y="391" width="938" height="1" fill="#ff0000"/><rect x="3" y="458" width="938" height="1" fill="#ff0000"/><rect x="3" y="63" width="938" height="1" fill="#000"/></g><polygon points="813.5,3 823.5,3 818.5,8" fill="#c0c0c0"/><g shape-rendering="crispEdges" fill="#000"><rect x="2" y="2" width="940" height="1"/><rect x="2" y="481" width="940" height="1"/><rect x="2" y="2" width="1" height="480"/><rect x="941" y="2" width="1" height="480"/><rect x="2" y="483" width="940" height="1"/><rect x="2" y="598" width="940" height="1"/><rect x="2" y="483" width="1" height="116"/><rect x="941" y="483" width="1" height="116"/><rect x="942" y="33" width="4" height="1"/><rect x="942" y="65" width="4" height="1"/><rect x="942" y="97" width="4" height="1"/><rect x="942" y="129" width="4" height="1"/><rect x="942" y="161" width="4" height="1"/><rect x="942" y="193" width="4" height="1"/><rect x="942" y="225" width="4" height="1"/><rect x="942" y="257" width="4" height="1"/><rect x="942" y="289" width="4" height="1"/><rect x="942" y="321" width="4" height="1"/><rect x="942" y="353" width="4" height="1"/><rect x="942" y="385" width="4" height="1"/><rect x="942" y="417" width="4" height="1"/><rect x="942" y="449" width="4" height="1"/><rect x="942" y="484" width="4" height="1"/><rect x="942" y="517" width="4" height="1"/><rect x="942" y="563" width="4" height="1"/><rect x="942" y="597" width="4" height="1"/><rect x="2" y="599" width="1" height="4"/><rect x="66" y="599" width="1" height="4"/><rect x="130" y="599" width="1" height="4"/><rect x="194" y="599" width="1" height="4"/><rect x="258" y="599" width="1" height="4"/><rect x="322" y="599" width="1" height="4"/><rect x="386" y="599" width="1" height="4"/><rect x="450" y="599" width="1" height="4"/><rect x="514" y="599" width="1" height="4"/><rect x="578" y="599" width="1" height="4"/><rect x="642" y="599" width="1" height="4"/><rect x="706" y="599" width="1" height="4"/><rect x="770" y="599" width="1" height="4"/></g><g shape-rendering="crispEdges"><line x1="2" y1="517.5" x2="941" y2="517.5" stroke="#008000" stroke-width="1" stroke-dasharray="3,3"/><line x1="2" y1="563.5" x2="941" y2="563.5" stroke="#008000" stroke-width="1" stroke-dasharray="3,3"/></g><rect x="2" y="483" width="1" height="116" fill="#000" shape-rendering="crispEdges"/><polyline clip-path="url(#cr)" points="2.5,548.1 6.5,544.9 10.5,544.2 14.5,542.5 18.5,543.4 22.5,538.6 26.5,534.4 30.5,529.6 34.5,524.9 38.5,523.1 42.5,517.5 46.5,520.3 50.5,520.3 54.5,519.6 58.5,518.5 62.5,523.3 66.5,531.2 70.5,532.3 74.5,526.2 78.5,532.3 82.5,532 86.5,527.3 90.5,527.3 94.5,527.3 98.5,525.9 102.5,525.5 106.5,529.6 110.5,525.9 114.5,525.4 118.5,520.1 122.5,517.5 126.5,518.5 130.5,536.2 134.5,536.2 138.5,531.5 142.5,541.5 146.5,533 150.5,532.6 154.5,536 158.5,536.2 162.5,530.7 166.5,526.7 170.5,523.3 174.5,527.5 178.5,527.5 182.5,527.5 186.5,527.5 190.5,528.4 194.5,522.2 198.5,528.5 202.5,530.2 206.5,530.1 210.5,522.7 214.5,520 218.5,523.2 222.5,519.5 226.5,517.9 230.5,515.3 234.5,516.3 238.5,510.5 242.5,522.2 246.5,522.2 250.5,520 254.5,525.3 258.5,542.2 262.5,537.3 266.5,538.3 270.5,542.2 274.5,537.7 278.5,537.3 282.5,536.9 286.5,531.1 290.5,533.2 294.5,533.8 298.5,536.2 302.5,537.1 306.5,537.3 310.5,535.9 314.5,529.2 318.5,537.3 322.5,535.9 326.5,528.5 330.5,526.4 334.5,519.5 338.5,517.4 342.5,516.3 346.5,521.1 350.5,521.6 354.5,526.1 358.5,522.7 362.5,522.7 366.5,524.6 370.5,524.6 374.5,524.6 378.5,535.9 382.5,538 386.5,531.3 390.5,535.9 394.5,545.9 398.5,551.7 402.5,554 406.5,554.3 410.5,554.3 414.5,555.1 418.5,548.6 422.5,548.3 426.5,540.4 430.5,540.6 434.5,545.4 438.5,545.1 442.5,542.7 446.5,538.5 450.5,527.9 454.5,526.1 458.5,522.4 462.5,520.3 466.5,522.9 470.5,524.7 474.5,536.1 478.5,536.3 482.5,534.2 486.5,535.3 490.5,535.3 494.5,543 498.5,534.9 502.5,528.3 506.5,531.4 510.5,531.7 514.5,540.1 518.5,533.5 522.5,533 526.5,529.3 530.5,526.6 534.5,524.5 538.5,524 542.5,519.8 546.5,516.1 550.5,520.3 554.5,515.5 558.5,519.2 562.5,521.3 566.5,519.8 570.5,517.1 574.5,520.3 578.5,521.3 582.5,521.9 586.5,528.2 590.5,527.5 594.5,530.6 598.5,534.2 602.5,532.4 606.5,535.6 610.5,530.3 614.5,528.2 618.5,527.5 622.5,527.5 626.5,537.2 630.5,537.2 634.5,543.5 638.5,559.4 642.5,553.9 646.5,548.6 650.5,548.6 654.5,550.7 658.5,559.4 662.5,559.4 666.5,543.3 670.5,543.3 674.5,543.3 678.5,544.6 682.5,544.6 686.5,543.3 690.5,551.5 694.5,543 698.5,533.5 702.5,533.5 706.5,533.5 710.5,531.3 714.5,534.2 718.5,524.4 722.5,537 726.5,540.5 730.5,533.8 734.5,531.3 738.5,516.6 742.5,516.2 746.5,515.3 750.5,513.3 754.5,516.6 758.5,516.6 762.5,512.4 766.5,514.3 770.5,514.3 774.5,514.6 778.5,525 782.5,531.3 786.5,530.1 790.5,526.3 794.5,532.6 798.5,527.2 802.5,534.2 806.5,534.2 810.5,534.2 814.5,533.5 818.5,537.2" fill="none" stroke="#0000ff" stroke-width="2" stroke-linejoin="round" shape-rendering="crispEdges"/><filter id="bin" x="0" y="0" width="994" height="619" filterUnits="userSpaceOnUse" color-interpolation-filters="sRGB"><feComponentTransfer><feFuncA type="linear" slope="1.2" intercept="0"/></feComponentTransfer></filter><g font-family="Liberation Sans, sans-serif" filter="url(#bin)"><text x="947" y="37" fill="#000" font-size="9.5" textLength="33" lengthAdjust="spacingAndGlyphs" >211.130</text><text x="947" y="69" fill="#000" font-size="9.5" textLength="33" lengthAdjust="spacingAndGlyphs" >210.345</text><text x="947" y="101" fill="#000" font-size="9.5" textLength="33" lengthAdjust="spacingAndGlyphs" >209.560</text><text x="947" y="133" fill="#000" font-size="9.5" textLength="33" lengthAdjust="spacingAndGlyphs" >208.775</text><text x="947" y="165" fill="#000" font-size="9.5" textLength="33" lengthAdjust="spacingAndGlyphs" >207.990</text><text x="947" y="197" fill="#000" font-size="9.5" textLength="33" lengthAdjust="spacingAndGlyphs" >207.205</text><text x="947" y="229" fill="#000" font-size="9.5" textLength="33" lengthAdjust="spacingAndGlyphs" >206.420</text><text x="947" y="261" fill="#000" font-size="9.5" textLength="33" lengthAdjust="spacingAndGlyphs" >205.635</text><text x="947" y="293" fill="#000" font-size="9.5" textLength="33" lengthAdjust="spacingAndGlyphs" >204.850</text><text x="947" y="325" fill="#000" font-size="9.5" textLength="33" lengthAdjust="spacingAndGlyphs" >204.065</text><text x="947" y="357" fill="#000" font-size="9.5" textLength="33" lengthAdjust="spacingAndGlyphs" >203.280</text><text x="947" y="389" fill="#000" font-size="9.5" textLength="33" lengthAdjust="spacingAndGlyphs" >202.495</text><text x="947" y="421" fill="#000" font-size="9.5" textLength="33" lengthAdjust="spacingAndGlyphs" >201.710</text><text x="947" y="453" fill="#000" font-size="9.5" textLength="33" lengthAdjust="spacingAndGlyphs" >200.925</text></g><rect x="944" y="17" width="39" height="11" fill="#ff0000" shape-rendering="crispEdges"/><rect x="944" y="119" width="39" height="11" fill="#ff0000" shape-rendering="crispEdges"/><rect x="944" y="209" width="39" height="11" fill="#ff0000" shape-rendering="crispEdges"/><rect x="944" y="271" width="39" height="11" fill="#ff0000" shape-rendering="crispEdges"/><rect x="944" y="306" width="39" height="11" fill="#ff0000" shape-rendering="crispEdges"/><rect x="944" y="386" width="39" height="11" fill="#ff0000" shape-rendering="crispEdges"/><rect x="944" y="453" width="39" height="11" fill="#ff0000" shape-rendering="crispEdges"/><rect x="944" y="58" width="39" height="11" fill="#000" shape-rendering="crispEdges"/><g shape-rendering="crispEdges">
<rect x="7" y="9" width="1" height="9" fill="#dd3a2a"/><rect x="8" y="8" width="6" height="1" fill="#dd3a2a"/><rect x="8" y="18" width="6" height="1" fill="#dd3a2a"/>
<rect x="7" y="8" width="1" height="1" fill="#eea29a"/><rect x="7" y="18" width="1" height="1" fill="#eea29a"/>
<rect x="14" y="8" width="7" height="1" fill="#1462ab"/><rect x="14" y="18" width="7" height="1" fill="#1462ab"/><rect x="21" y="9" width="1" height="9" fill="#1462ab"/>
<rect x="21" y="8" width="1" height="1" fill="#8ab0d5"/><rect x="21" y="18" width="1" height="1" fill="#8ab0d5"/>
<rect x="8" y="11" width="6" height="2" fill="#fde2d8"/><rect x="8" y="14" width="6" height="2" fill="#fde2d8"/>
<rect x="14" y="11" width="7" height="2" fill="#c9ecfb"/><rect x="14" y="14" width="7" height="2" fill="#c9ecfb"/>
<rect x="9" y="10" width="5" height="1" fill="#dd3a2a"/><rect x="9" y="13" width="5" height="1" fill="#dd3a2a"/><rect x="9" y="16" width="5" height="1" fill="#dd3a2a"/>
<rect x="15" y="10" width="5" height="1" fill="#1462ab"/><rect x="15" y="13" width="5" height="1" fill="#1462ab"/><rect x="15" y="16" width="5" height="1" fill="#1462ab"/>
</g>
<g font-family="Liberation Sans, sans-serif" filter="url(#bin)"><text x="947" y="26" fill="#fff" font-size="9.5" textLength="33" lengthAdjust="spacingAndGlyphs" >211.403</text><text x="947" y="128" fill="#fff" font-size="9.5" textLength="33" lengthAdjust="spacingAndGlyphs" >208.906</text><text x="947" y="218" fill="#fff" font-size="9.5" textLength="33" lengthAdjust="spacingAndGlyphs" >206.700</text><text x="947" y="280" fill="#fff" font-size="9.5" textLength="33" lengthAdjust="spacingAndGlyphs" >205.157</text><text x="947" y="315" fill="#fff" font-size="9.5" textLength="33" lengthAdjust="spacingAndGlyphs" >204.305</text><text x="947" y="395" fill="#fff" font-size="9.5" textLength="33" lengthAdjust="spacingAndGlyphs" >202.353</text><text x="947" y="462" fill="#fff" font-size="9.5" textLength="33" lengthAdjust="spacingAndGlyphs" >200.702</text><text x="947" y="67" fill="#fff" font-size="9.5" textLength="33" lengthAdjust="spacingAndGlyphs" >210.393</text><text x="947" y="492" fill="#000" font-size="9.5" textLength="27.5" lengthAdjust="spacingAndGlyphs" >100.00</text><text x="947" y="521" fill="#000" font-size="9.5" textLength="22" lengthAdjust="spacingAndGlyphs" >70.00</text><text x="947" y="567" fill="#000" font-size="9.5" textLength="22" lengthAdjust="spacingAndGlyphs" >30.00</text><text x="947" y="596" fill="#000" font-size="9.5" textLength="17" lengthAdjust="spacingAndGlyphs" >0.00</text><text x="1.5" y="611" fill="#000" font-size="9.5" textLength="49" lengthAdjust="spacingAndGlyphs" >6 Nov 2025</text><text x="65.5" y="611" fill="#000" font-size="9.5" textLength="57" lengthAdjust="spacingAndGlyphs" >11 Nov 08:00</text><text x="129.5" y="611" fill="#000" font-size="9.5" textLength="57" lengthAdjust="spacingAndGlyphs" >14 Nov 00:00</text><text x="193.5" y="611" fill="#000" font-size="9.5" textLength="57" lengthAdjust="spacingAndGlyphs" >18 Nov 16:00</text><text x="257.5" y="611" fill="#000" font-size="9.5" textLength="57" lengthAdjust="spacingAndGlyphs" >21 Nov 08:00</text><text x="321.5" y="611" fill="#000" font-size="9.5" textLength="57" lengthAdjust="spacingAndGlyphs" >26 Nov 00:00</text><text x="385.5" y="611" fill="#000" font-size="9.5" textLength="57" lengthAdjust="spacingAndGlyphs" >28 Nov 16:00</text><text x="449.5" y="611" fill="#000" font-size="9.5" textLength="50" lengthAdjust="spacingAndGlyphs" >3 Dec 08:00</text><text x="513.5" y="611" fill="#000" font-size="9.5" textLength="50" lengthAdjust="spacingAndGlyphs" >8 Dec 00:00</text><text x="577.5" y="611" fill="#000" font-size="9.5" textLength="55" lengthAdjust="spacingAndGlyphs" >10 Dec 16:00</text><text x="641.5" y="611" fill="#000" font-size="9.5" textLength="55" lengthAdjust="spacingAndGlyphs" >15 Dec 08:00</text><text x="705.5" y="611" fill="#000" font-size="9.5" textLength="55" lengthAdjust="spacingAndGlyphs" >18 Dec 00:00</text><text x="769.5" y="611" fill="#000" font-size="9.5" textLength="55" lengthAdjust="spacingAndGlyphs" >22 Dec 16:00</text><text x="28" y="17" fill="#000" font-size="9.5" textLength="284" lengthAdjust="spacingAndGlyphs" xml:space="preserve">GBPJPY, H4:  British Pound vs Japanese Yen (1 lot = GBP 100,000)</text><text x="5" y="496" fill="#000" font-size="9.5" textLength="59" lengthAdjust="spacingAndGlyphs" >RSI(14) 53.24</text></g>
</svg>
</body></html>
